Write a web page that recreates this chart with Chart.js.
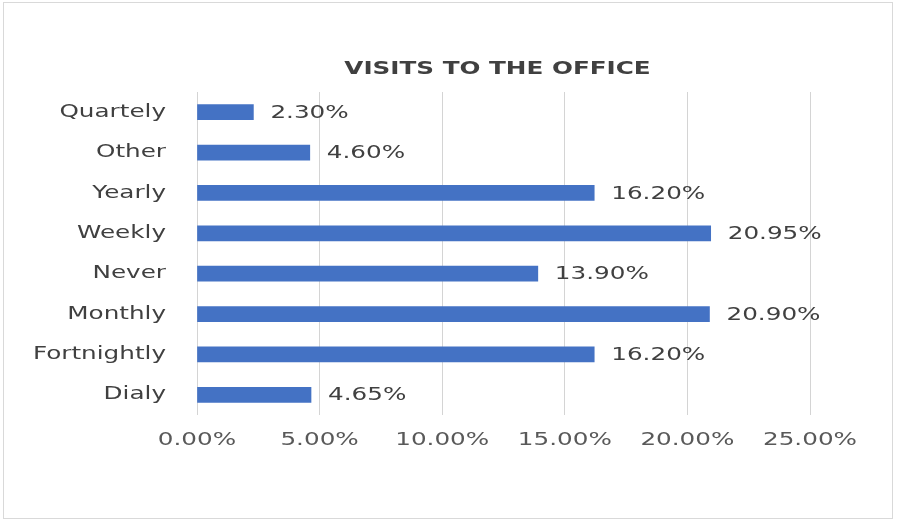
<!DOCTYPE html>
<html>
<head>
<meta charset="utf-8">
<script src="https://cdn.jsdelivr.net/npm/chart.js@4.4.1/dist/chart.umd.min.js"></script>
<style>
  html, body { margin: 0; padding: 0; background: #fff; }
  #wrap { position: relative; width: 897px; height: 521px; }
  #frame { position: absolute; left: 3px; top: 2px; width: 888px; height: 515px; border: 1px solid #d9d9d9; }
  #myChart { position: absolute; left: 0; top: 0; }
</style>
</head>
<body>
<div id="wrap">
  <div id="frame"></div>
  <canvas id="myChart" width="897" height="521"></canvas>
</div>
<script>
// danh mục và giá trị (%)
const categories = ['Quartely', 'Other', 'Yearly', 'Weekly', 'Never', 'Monthly', 'Fortnightly', 'Dialy'];
const visits = [2.30, 4.60, 16.20, 20.95, 13.90, 20.90, 16.20, 4.65];
const xTicks = [0, 5, 10, 15, 20, 25];
const chartTitle = 'VISITS TO THE OFFICE';

const FONT = 'DejaVu Sans';
const STRETCH = 1.37; // chữ kéo giãn theo chiều ngang

const ctx = document.getElementById('myChart').getContext('2d');

// bọc fillText / measureText để chữ rộng hơn
const origFill = ctx.fillText.bind(ctx);
const origMeasure = ctx.measureText.bind(ctx);
ctx.fillText = function (text, x, y, maxWidth) {
  ctx.save();
  ctx.translate(x, y);
  ctx.scale(STRETCH, 1);
  origFill(text, 0, 0);
  ctx.restore();
};
ctx.measureText = function (text) {
  const m = origMeasure(text);
  return {
    width: m.width * STRETCH,
    actualBoundingBoxAscent: m.actualBoundingBoxAscent,
    actualBoundingBoxDescent: m.actualBoundingBoxDescent,
    actualBoundingBoxLeft: m.actualBoundingBoxLeft * STRETCH,
    actualBoundingBoxRight: m.actualBoundingBoxRight * STRETCH
  };
};

// tiêu đề + nhãn giá trị ở cuối thanh
const labels = {
  id: 'labels',
  afterDatasetsDraw(chart) {
    const c = chart.ctx;
    const area = chart.chartArea;
    c.save();
    c.fillStyle = '#404040';
    c.font = 'bold 18px "' + FONT + '"';
    c.textAlign = 'center';
    c.textBaseline = 'middle';
    c.fillText(chartTitle, (area.left + area.right) / 2 - 6, area.top - 23);

    c.font = '18px "' + FONT + '"';
    c.textAlign = 'left';
    const meta = chart.getDatasetMeta(0);
    meta.data.forEach((bar, i) => {
      c.fillText(visits[i].toFixed(2) + '%', bar.x + 17, bar.y + 1);
    });
    c.restore();
  }
};

const myChart = new Chart(ctx, {
  type: 'bar',
  data: {
    labels: categories,
    datasets: [{
      data: visits,
      backgroundColor: '#4472C4',
      barThickness: 15
    }]
  },
  options: {
    indexAxis: 'y',
    responsive: false,
    animation: false,
    layout: { padding: { top: 92, right: 87, left: 0, bottom: 0 } },
    plugins: {
      legend: { display: false },
      title: { display: false },
      tooltip: { enabled: false }
    },
    scales: {
      x: {
        min: 0,
        max: 25,
        afterBuildTicks(scale) { scale.ticks = xTicks.map(v => ({ value: v })); },
        afterFit(scale) { scale.height = 106; },
        grid: { color: '#d4d4d4', lineWidth: 1, drawTicks: false },
        border: { display: false },
        ticks: {
          color: '#595959',
          font: { family: FONT, size: 18 },
          padding: 15,
          callback: v => v.toFixed(2) + '%'
        }
      },
      y: {
        afterFit(scale) { scale.width = 197; },
        grid: { display: false, drawTicks: false },
        border: { display: false },
        ticks: {
          color: '#404040',
          font: { family: FONT, size: 18 },
          padding: 31
        }
      }
    }
  },
  plugins: [labels]
});
</script>
</body>
</html>
